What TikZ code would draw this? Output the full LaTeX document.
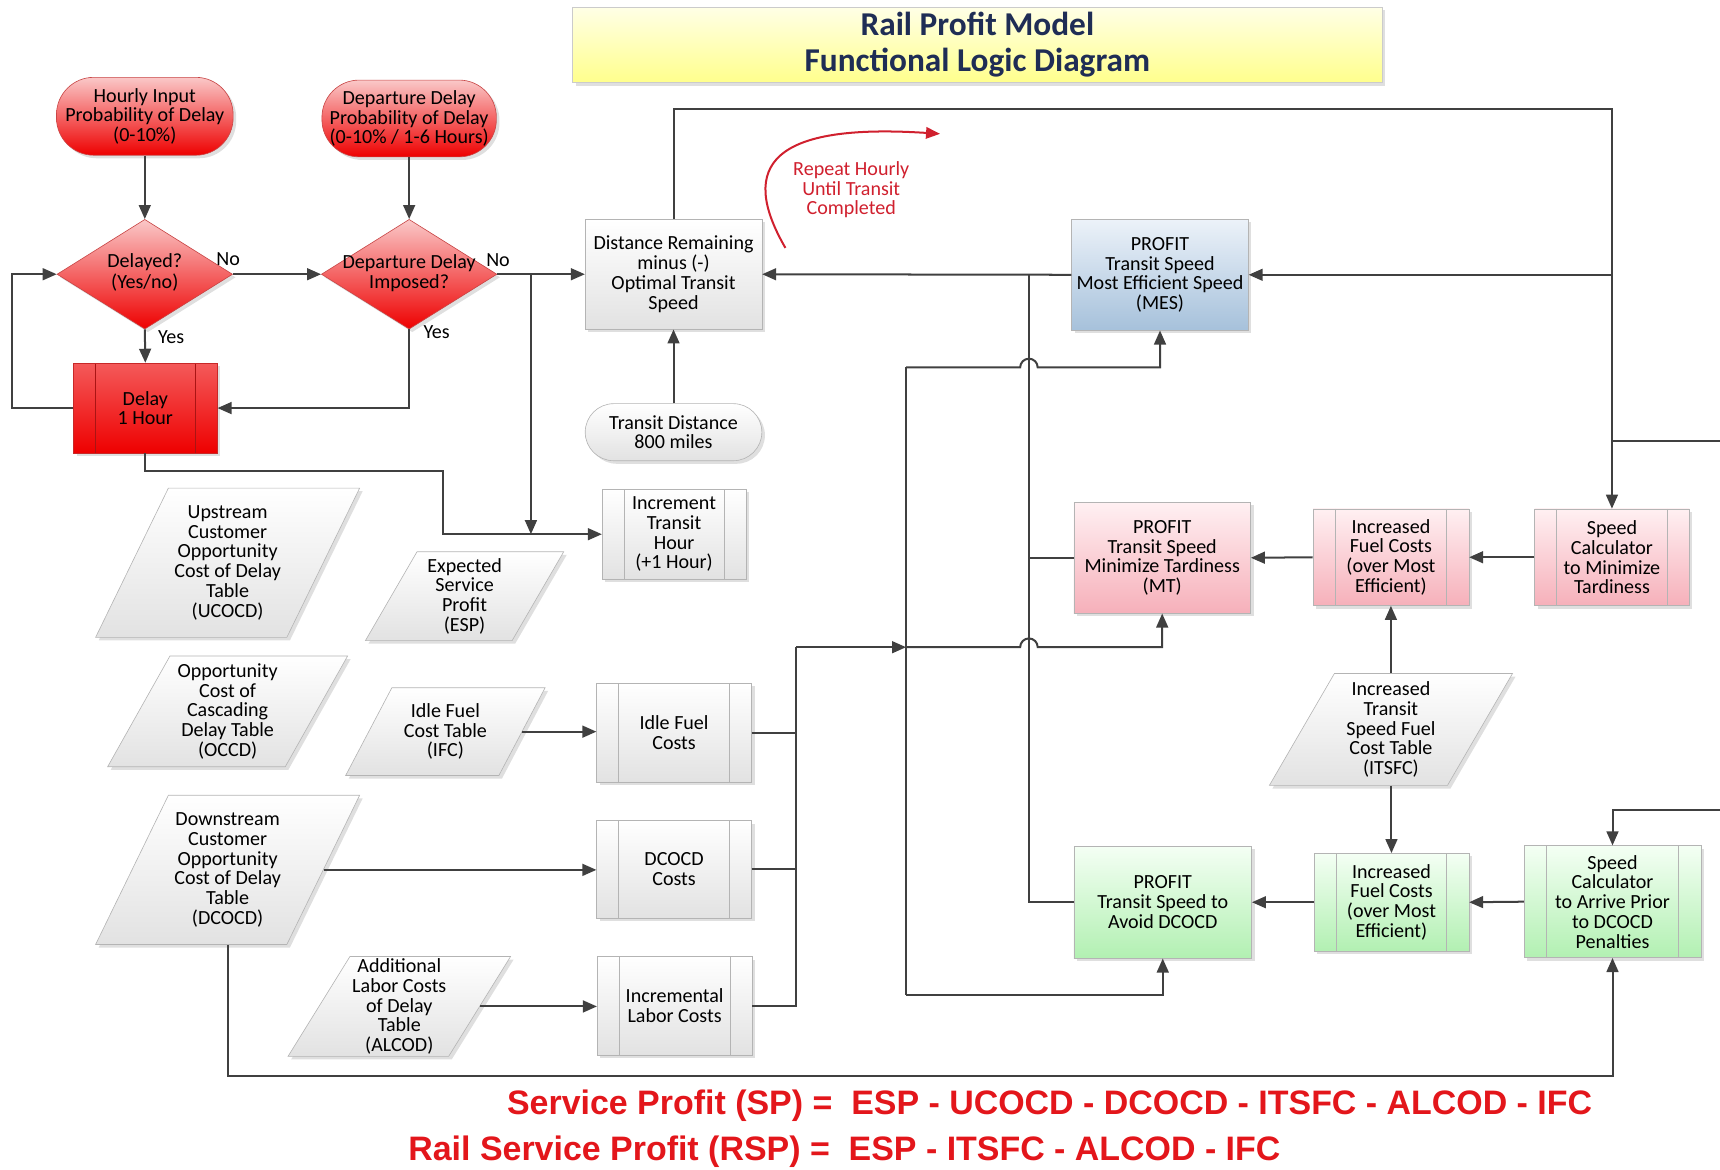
\documentclass[tikz,border=0pt]{standalone}
\usepackage{fontspec}
\setmainfont{Carlito}
\newfontfamily\formulafont{Liberation Sans}
\usetikzlibrary{arrows.meta, shapes.geometric, shadows}
\definecolor{linegray}{HTML}{404040}
\definecolor{boxgray}{HTML}{B4B4B4}
\definecolor{delayred}{HTML}{EE0000}
\definecolor{lightred}{HTML}{FAC8C8}
\definecolor{titlenavy}{HTML}{1F2D55}
\definecolor{formulared}{HTML}{E3161B}
\definecolor{repeatred}{HTML}{D0202E}
\definecolor{mesblue}{HTML}{A6C1DB}
\definecolor{mtpink}{HTML}{F6B0BA}
\definecolor{dcgreen}{HTML}{B2F0B2}
\definecolor{titleyellow}{HTML}{FFFF8C}
\tikzstyle{arrow} = [line width=1.3pt, draw=linegray, -{Triangle[length=0.32cm,width=0.27cm]}]
\tikzstyle{link} = [line width=1.3pt, draw=linegray]
\tikzset{proc line/.style={draw=boxgray, line width=0.6pt}}
\newcommand{\dtext}[1]{\makebox[0pt]{\begin{tabular}{@{}c@{}}#1\end{tabular}}}

\begin{document}
\begin{tikzpicture}[x=0.025cm, y=-0.025cm]
    \tikzstyle{every node}=[font={\fontsize{13}{12.8}\selectfont}]
    \tikzstyle{shadowed} = [drop shadow={shadow xshift=0.07cm, shadow yshift=-0.07cm, opacity=0.25}]
    \tikzstyle{grayfill} = [top color=white, bottom color={rgb,255:red,226;green,226;blue,226}]
    \tikzstyle{pinkfill} = [top color={rgb,255:red,255;green,240;blue,242}, bottom color=mtpink]
    \tikzstyle{greenfill} = [top color={rgb,255:red,244;green,255;blue,244}, bottom color=dcgreen]
    \tikzstyle{bluefill} = [top color={rgb,255:red,236;green,242;blue,249}, bottom color=mesblue]
    \tikzstyle{redfill} = [top color=lightred, bottom color=delayred, draw={rgb,255:red,200;green,70;blue,70}]
    \tikzstyle{plainbox} = [rectangle, draw=boxgray, align=center, inner xsep=2pt, shadowed]
    \tikzstyle{process} = [plainbox, path picture={
        \draw[proc line] ([xshift=0.5cm]path picture bounding box.north west) -- ([xshift=0.5cm]path picture bounding box.south west)
                         ([xshift=-0.5cm]path picture bounding box.north east) -- ([xshift=-0.5cm]path picture bounding box.south east);}]
    \tikzstyle{inputred} = [rectangle, rounded corners=0.85cm, redfill, align=center, inner xsep=2pt, shadowed]
    \tikzstyle{decision} = [diamond, aspect=1.6, inner sep=0pt, minimum width=4cm, minimum height=2.5cm, redfill, shadowed]
    \tikzstyle{datatable} = [trapezium, trapezium stretches=true, draw=boxgray, grayfill, align=center, inner xsep=1pt, inner ysep=0pt, shadowed]
    \tikzstyle{formula} = [font={\formulafont\bfseries\fontsize{22}{24}\selectfont}, text=formulared, inner sep=0pt, anchor=west]

    \useasboundingbox (0,0) rectangle (1568,1066);

    \node[rectangle, draw=boxgray!70, top color={rgb,255:red,255;green,255;blue,230}, bottom color=titleyellow, minimum width=18.45cm, minimum height=1.675cm, align=center, text=titlenavy, font={\fontsize{21.6}{23.5}\selectfont\bfseries}, shadowed] (title) at (891,41) {Rail Profit Model\\Functional Logic Diagram};

    \node[inputred, minimum width=4.025cm, minimum height=1.775cm] (hourly) at (132,106) {Hourly Input\\Probability of Delay\\(0-10\%)};
    \node[inputred, minimum width=3.975cm, minimum height=1.75cm] (departure) at (373,108) {Departure Delay\\Probability of Delay\\(0-10\% / 1-6 Hours)};
    \node[decision] (delayed) at (132,250) {\dtext{Delayed?\\(Yes/no)}};
    \node[decision] (imposed) at (373,250) {\dtext{Departure Delay\\Imposed?}};
    \node[process, top color={rgb,255:red,244;green,90;blue,90}, bottom color=delayred, draw={rgb,255:red,200;green,40;blue,40}, proc line/.style={draw={rgb,255:red,170;green,20;blue,20}, line width=0.6pt}, minimum width=3.275cm, minimum height=2.05cm] (delay) at (132.5,372) {Delay\\1 Hour};

    \node (no1) at (208,236) {No};
    \node (no2) at (454,237) {No};
    \node (yes1) at (156,307) {Yes};
    \node (yes2) at (398,303) {Yes};

    \node[plainbox, grayfill, minimum width=4.025cm, minimum height=2.5cm] (dist) at (614,250) {Distance Remaining\\minus (-)\\Optimal Transit\\Speed};
    \node[plainbox, grayfill, rounded corners=0.65cm, minimum width=4.025cm, minimum height=1.3cm] (transit) at (614,394) {Transit Distance\\800 miles};
    \node[process, grayfill, minimum width=3.275cm, minimum height=2.05cm] (increment) at (614.5,487) {Increment\\Transit\\Hour\\(+1 Hour)};
    \node[text=repeatred, align=center] (repeat) at (776,173) {Repeat Hourly\\Until Transit\\Completed};

    \node[plainbox, bluefill, minimum width=4.025cm, minimum height=2.525cm] (mes) at (1057.5,250.5) {PROFIT\\Transit Speed\\Most Efficient Speed\\(MES)};
    \node[plainbox, pinkfill, minimum width=4.025cm, minimum height=2.525cm] (mt) at (1059.5,508.5) {PROFIT\\Transit Speed\\Minimize Tardiness\\(MT)};
    \node[process, pinkfill, minimum width=3.55cm, minimum height=2.2cm] (fuelmt) at (1268,508) {Increased\\Fuel Costs\\(over Most\\Efficient)};
    \node[process, pinkfill, minimum width=3.525cm, minimum height=2.2cm] (speedmt) at (1469.5,508) {Speed\\Calculator\\to Minimize\\Tardiness};
    \node[datatable, trapezium left angle=61, trapezium right angle=119, minimum width=5.55cm, minimum height=2.55cm] (itsfc) at (1268,665) {Increased\\Transit\\Speed Fuel\\Cost Table\\(ITSFC)};
    \node[plainbox, greenfill, minimum width=4.05cm, minimum height=2.55cm] (dc) at (1060,822.5) {PROFIT\\Transit Speed to\\Avoid DCOCD};
    \node[process, greenfill, minimum width=3.525cm, minimum height=2.225cm] (fueldc) at (1268.5,822.5) {Increased\\Fuel Costs\\(over Most\\Efficient)};
    \node[process, greenfill, minimum width=4.025cm, minimum height=2.55cm] (speeddc) at (1470,822) {Speed\\Calculator\\to Arrive Prior\\to DCOCD\\Penalties};

    \node[datatable, trapezium left angle=59.5, trapezium right angle=120.5, minimum width=6.025cm, minimum height=3.4cm] (ucocd) at (207.5,513) {Upstream\\Customer\\Opportunity\\Cost of Delay\\Table\\(UCOCD)};
    \node[datatable, trapezium left angle=61, trapezium right angle=119, minimum width=4.525cm, minimum height=2.025cm] (esp) at (423.5,543.5) {Expected\\Service\\Profit\\(ESP)};
    \node[datatable, trapezium left angle=59.7, trapezium right angle=120.3, minimum width=5.475cm, minimum height=2.525cm] (occd) at (207.5,648.5) {Opportunity\\Cost of\\Cascading\\Delay Table\\(OCCD)};
    \node[datatable, trapezium left angle=56.5, trapezium right angle=123.5, minimum width=4.55cm, minimum height=2cm] (ifc) at (406,667) {Idle Fuel\\Cost Table\\(IFC)};
    \node[datatable, trapezium left angle=59.5, trapezium right angle=120.5, minimum width=6.025cm, minimum height=3.4cm] (dcocd) at (207.5,793) {Downstream\\Customer\\Opportunity\\Cost of Delay\\Table\\(DCOCD)};
    \node[datatable, trapezium left angle=57.5, trapezium right angle=122.5, minimum width=5.075cm, minimum height=2.275cm] (alcod) at (364,917.5) {Additional\\Labor Costs\\of Delay\\Table\\(ALCOD)};

    \node[process, grayfill, minimum width=3.525cm, minimum height=2.25cm] (idle) at (614.5,668) {Idle Fuel\\Costs};
    \node[process, grayfill, minimum width=3.525cm, minimum height=2.225cm] (dcocdcost) at (614.5,792.5) {DCOCD\\Costs};
    \node[process, grayfill, minimum width=3.525cm, minimum height=2.25cm] (labor) at (615,917) {Incremental\\Labor Costs};

    \node[formula] (sp) at (462,1008) {Service Profit (SP) =\ \ ESP - UCOCD - DCOCD - ITSFC - ALCOD - IFC};
    \node[formula] (rsp) at (372,1050) {Rail Service Profit (RSP) =\ \ ESP - ITSFC - ALCOD - IFC};

    \coordinate (nobranch) at (484,250);
    \coordinate (profitback) at (938,250);
    \coordinate (collect) at (726,590);
    \coordinate (hub) at (826,590);
    \coordinate (hubtop) at (826,335);
    \coordinate (hubbottom) at (826,907);
    \coordinate (rightmid) at (1469.5,402);
    \coordinate (rightedge) at (1568,402);
    \coordinate (lowedge) at (1568,738);
    \coordinate (repeatstart) at (716,226);
    \coordinate (repeatend) at (857,122);

    \draw[arrow] (hourly.south) -- (delayed.north);
    \draw[arrow] (departure.south) -- (imposed.north);
    \draw[arrow] (delayed.south) -- (delay.north);
    \draw[arrow] (delayed.east) -- (imposed.west);
    \draw[arrow] (imposed.south) |- (delay.east);
    \draw[arrow] (delay.west) -- ++(-56,0) |- (delayed.west);
    \draw[arrow] (imposed.east) -- (dist.west);
    \draw[arrow] (nobranch) -- (nobranch |- increment.west);
    \draw[arrow] (delay.south) |- (404,429) |- (increment.west);
    \draw[arrow] (transit.north) -- (dist.south);
    \draw[arrow] (mes.west) -- (dist.east);
    \draw[arrow] (dist.north) -- ++(0,-100) -| (speedmt.north);
    \draw[arrow] (speedmt.north |- mes.east) -- (mes.east);
    \draw[link] (rightmid) -- (rightedge);
    \draw[arrow] (lowedge) -| (speeddc.north);

    \draw[arrow] (speedmt.west) -- (fuelmt.east);
    \draw[arrow] (fuelmt.west) -- (mt.east);
    \draw[arrow] (fuelmt.south |- itsfc.north) -- (fuelmt.south);
    \draw[arrow] (fueldc.north |- itsfc.south) -- (fueldc.north);
    \draw[arrow] (speeddc.west) -- (fueldc.east);
    \draw[arrow] (fueldc.west) -- (dc.east);
    \draw[link] (mt.west) -| (profitback);
    \draw[link] (dc.west) -| (profitback);

    \draw[link] (idle.east) -| (collect);
    \draw[link] (dcocdcost.east) -| (collect);
    \draw[link] (labor.east) -| (collect);
    \draw[arrow] (collect) -- (hub);
    \draw[link] (hubtop) -- (hubbottom);
    \draw[arrow] (hubtop) -- (930,335) arc[start angle=180, end angle=0, radius=0.2cm] -| (mes.south);
    \draw[arrow] (hub) -- (930,590) arc[start angle=180, end angle=0, radius=0.2cm] -| (mt.south);
    \draw[arrow] (hubbottom) -| (dc.south);

    \draw[arrow] (ifc.east) -- (ifc.east -| idle.west);
    \draw[arrow] (dcocd.east) -- (dcocd.east -| dcocdcost.west);
    \draw[arrow] (alcod.east) -- (alcod.east -| labor.west);
    \draw[arrow] (dcocd.center |- dcocd.south) -- ++(0,120) -| (speeddc.south);

    \draw[line width=1.3pt, draw=repeatred, -{Triangle[length=0.32cm,width=0.26cm]}] (repeatstart) .. controls (672,150) and (705,112) .. (repeatend);
\end{tikzpicture}
\end{document}
